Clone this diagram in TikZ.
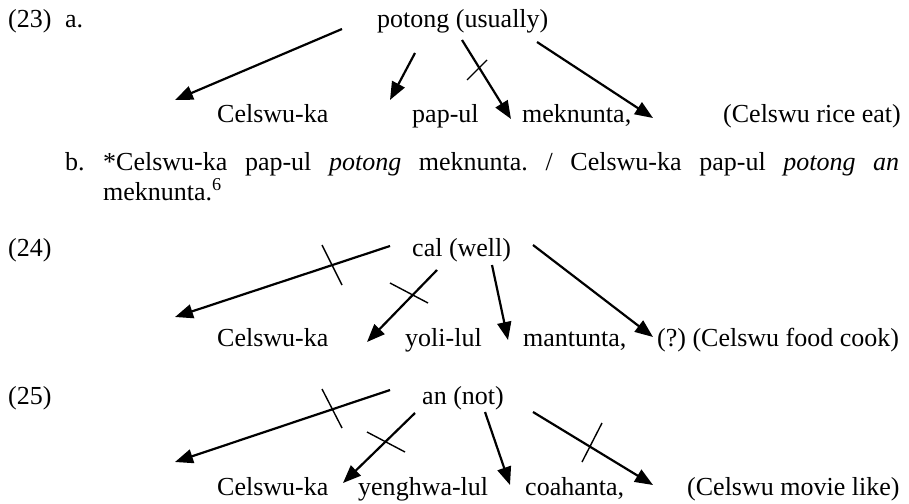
\documentclass[tikz,border=0pt]{standalone}
\usepackage{fontspec}
\setmainfont{Liberation Serif}
\usetikzlibrary{arrows.meta}
\frenchspacing
\begin{document}
\begin{tikzpicture}[x=1pt,y=-1pt,
  txt/.style={anchor=base west, inner sep=0pt, font=\fontsize{26}{30}\selectfont},
  arr/.style={line width=2.2pt, -{Triangle[length=18pt,width=14pt]}},
  tickmark/.style={line width=1.4pt}]
\useasboundingbox (0,0) rectangle (909,503);
% ---------- (23) ----------
\node[txt] (n23) at (8,28) {(23)};
\node[txt] (a23) at (65,28) {a.};
\node[txt] (h23) at (377,28) {potong (usually)};
\node[txt] (c23) at (217,122) {Celswu-ka};
\node[txt] (p23) at (412,122) {pap-ul};
\node[txt] (m23) at (522,122) {meknunta,};
\node[txt] (g23) at (723,122) {(Celswu rice eat)};
\node[txt] (b23) at (65,170) {b.};
\node[txt] (s23) at (103,170) {\makebox[796pt][s]{*Celswu-ka pap-ul \textit{potong} meknunta. / Celswu-ka pap-ul \textit{potong an}}};
\node[txt] (s23b) at (103,200) {meknunta.\textsuperscript{6}};
\coordinate (a1s) at (342,29);  \coordinate (a1e) at (175,100);
\coordinate (a2s) at (415,53);  \coordinate (a2e) at (390,100);
\coordinate (a3s) at (462,40);  \coordinate (a3e) at (511,119);
\coordinate (a4s) at (537,42);  \coordinate (a4e) at (653,118);
\coordinate (t3a) at (467,80);  \coordinate (t3b) at (487,60);
\draw[arr] (a1s) -- (a1e);
\draw[arr] (a2s) -- (a2e);
\draw[arr] (a3s) -- (a3e);
\draw[arr] (a4s) -- (a4e);
\draw[tickmark] (t3a) -- (t3b);
% ---------- (24) ----------
\node[txt] (n24) at (8,256) {(24)};
\node[txt] (h24) at (412,256) {cal (well)};
\node[txt] (c24) at (217,346) {Celswu-ka};
\node[txt] (y24) at (405,346) {yoli-lul};
\node[txt] (m24) at (523,346) {mantunta,};
\node[txt] (g24) at (657,346) {(?) (Celswu food cook)};
\coordinate (b1s) at (390,246); \coordinate (b1e) at (175,317);
\coordinate (b2s) at (437,270); \coordinate (b2e) at (367,342);
\coordinate (b3s) at (492,265); \coordinate (b3e) at (508,340);
\coordinate (b4s) at (533,245); \coordinate (b4e) at (653,337);
\coordinate (u1a) at (322,245); \coordinate (u1b) at (342,285);
\coordinate (u2a) at (390,283); \coordinate (u2b) at (428,303);
\draw[arr] (b1s) -- (b1e);
\draw[arr] (b2s) -- (b2e);
\draw[arr] (b3s) -- (b3e);
\draw[arr] (b4s) -- (b4e);
\draw[tickmark] (u1a) -- (u1b);
\draw[tickmark] (u2a) -- (u2b);
% ---------- (25) ----------
\node[txt] (n25) at (8,404) {(25)};
\node[txt] (h25) at (422,404) {an (not)};
\node[txt] (c25) at (217,495) {Celswu-ka};
\node[txt] (y25) at (358,495) {yenghwa-lul};
\node[txt] (m25) at (525,495) {coahanta,};
\node[txt] (g25) at (687,495) {(Celswu movie like)};
\coordinate (c1s) at (390,390); \coordinate (c1e) at (175,462);
\coordinate (c2s) at (415,413); \coordinate (c2e) at (343,483);
\coordinate (c3s) at (485,412); \coordinate (c3e) at (510,485);
\coordinate (c4s) at (533,412); \coordinate (c4e) at (653,485);
\coordinate (v1a) at (322,389); \coordinate (v1b) at (342,428);
\coordinate (v2a) at (367,432); \coordinate (v2b) at (405,452);
\coordinate (v4a) at (602,423); \coordinate (v4b) at (582,462);
\draw[arr] (c1s) -- (c1e);
\draw[arr] (c2s) -- (c2e);
\draw[arr] (c3s) -- (c3e);
\draw[arr] (c4s) -- (c4e);
\draw[tickmark] (v1a) -- (v1b);
\draw[tickmark] (v2a) -- (v2b);
\draw[tickmark] (v4a) -- (v4b);
\end{tikzpicture}
\end{document}
